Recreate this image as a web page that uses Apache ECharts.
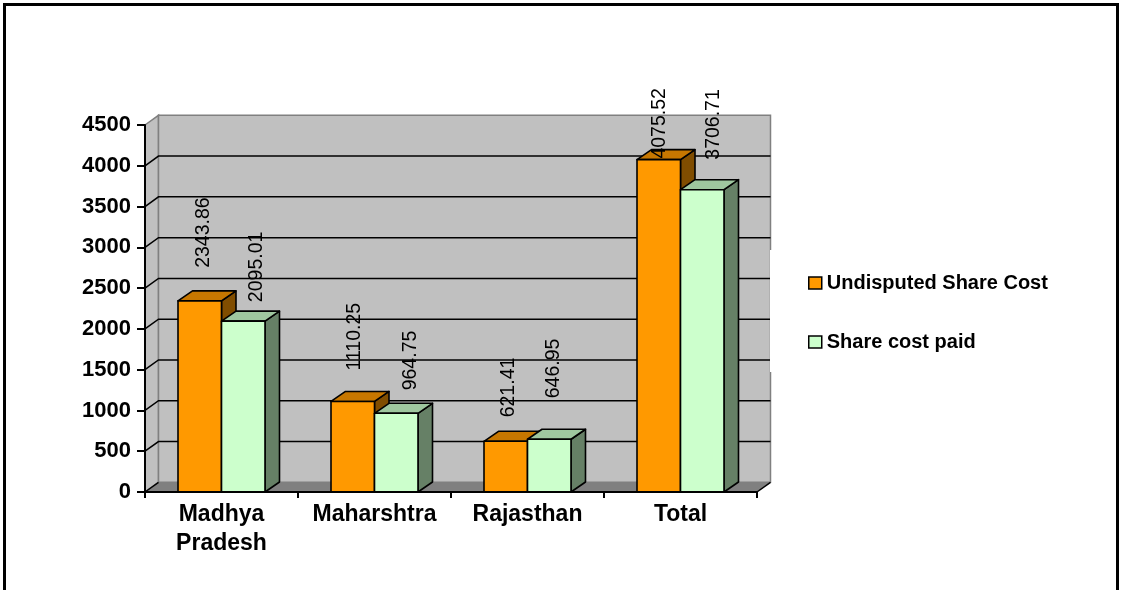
<!DOCTYPE html>
<html>
<head>
<meta charset="utf-8">
<script src="https://cdn.jsdelivr.net/npm/echarts@6/dist/echarts.min.js"></script>
<style>
  html, body { margin: 0; padding: 0; background: #ffffff; }
  #chart { width: 1122px; height: 590px; }
</style>
</head>
<body>
<div id="chart"></div>
<script>
// ---------------- data ----------------
const categories = ['Madhya\nPradesh', 'Maharshtra', 'Rajasthan', 'Total'];
const undisputedShareCost = [2343.86, 1110.25, 621.41, 4075.52];
const shareCostPaid = [2095.01, 964.75, 646.95, 3706.71];
const yTicks = [0, 500, 1000, 1500, 2000, 2500, 3000, 3500, 4000, 4500];
const seriesNames = ['Undisputed Share Cost', 'Share cost paid'];

// ---------------- style ----------------
const FONT = '"Liberation Sans", Arial, Helvetica, sans-serif';
const WALL_DX = 13.5, WALL_DY = -9.7;   // depth of the 3D walls
const BAR_DX = 14.5, BAR_DY = -10;      // depth of the 3D bars
const BAR_W = 43.5;
const palette = [
  { front: '#FF9900', top: '#C77700', side: '#804D00' },
  { front: '#CCFFCC', top: '#9FC79F', side: '#668066' }
];
// small label nudges [dx from bar centre, gap above bar top]
const labelNudge = [
  [[3.5, 33], [1.5, 31], [3.3, 24], [1, 1]],
  [[13, 19], [14, 23], [4.7, 41], [11.7, 30]]
];

const chart = echarts.init(document.getElementById('chart'), null, { renderer: 'canvas' });

function wallsRender(params, api) {
  const cs = params.coordSys;
  const L = cs.x, R = cs.x + cs.width, T = cs.y, B = cs.y + cs.height;
  const dx = WALL_DX, dy = WALL_DY;
  const children = [
    { type: 'polygon', shape: { points: [[L, T], [L + dx, T + dy], [L + dx, B + dy], [L, B]] },
      style: { fill: '#C0C0C0', stroke: '#808080', lineWidth: 1.5 } },
    { type: 'rect', shape: { x: L + dx, y: T + dy, width: R - L, height: B - T },
      style: { fill: '#C0C0C0', stroke: '#808080', lineWidth: 1.5 } },
    { type: 'polygon', shape: { points: [[L, B], [L + dx, B + dy], [R + dx, B + dy], [R, B]] },
      style: { fill: '#808080', stroke: null } },
    { type: 'polyline', shape: { points: [[L, B], [L + dx, B + dy]] },
      style: { stroke: '#000', lineWidth: 1.5, fill: null } },
    { type: 'polyline', shape: { points: [[R, B], [R + dx, B + dy]] },
      style: { stroke: '#000', lineWidth: 1.5, fill: null } }
  ];
  yTicks.forEach(function (t, i) {
    if (i === 0 || i === yTicks.length - 1) return;
    const y = api.coord([0, t])[1];
    children.push({ type: 'polyline',
      shape: { points: [[L, y], [L + dx, y + dy], [R + dx, y + dy]] },
      style: { stroke: '#000', lineWidth: 1.5, fill: null } });
  });
  return { type: 'group', children: children };
}

function makeBarRender(sIdx) {
  return function (params, api) {
    const ci = api.value(0), v = api.value(1);
    const base = api.coord([ci, 0]);
    const topPt = api.coord([ci, v]);
    const cx = base[0];
    const x0 = sIdx === 0 ? cx - BAR_W : cx;
    const x1 = x0 + BAR_W;
    const yb = base[1], yt = topPt[1];
    const dx = BAR_DX, dy = BAR_DY;
    const c = palette[sIdx];
    const edge = { stroke: '#000', lineWidth: 1.6, lineJoin: 'round' };
    const nd = labelNudge[sIdx][params.dataIndex];
    return {
      type: 'group',
      children: [
        { type: 'polygon', shape: { points: [[x1, yt], [x1 + dx, yt + dy], [x1 + dx, yb + dy], [x1, yb]] },
          style: Object.assign({ fill: c.side }, edge) },
        { type: 'polygon', shape: { points: [[x0, yt], [x1, yt], [x1 + dx, yt + dy], [x0 + dx, yt + dy]] },
          style: Object.assign({ fill: c.top }, edge) },
        { type: 'rect', shape: { x: x0, y: yt, width: x1 - x0, height: yb - yt },
          style: Object.assign({ fill: c.front }, edge) },
        { type: 'text', x: (x0 + x1) / 2 + nd[0], y: yt - nd[1], rotation: Math.PI / 2,
          style: { text: v.toFixed(2), fontSize: 19.5, fontFamily: FONT, fill: '#000',
                   align: 'left', verticalAlign: 'middle' } }
      ]
    };
  };
}

const option = {
  animation: false,
  backgroundColor: '#ffffff',
  grid: { left: 145, right: 365, top: 125, bottom: 98, containLabel: false },
  xAxis: {
    type: 'category',
    data: categories,
    z: 5,
    axisLine: { show: true, lineStyle: { color: '#000', width: 2 } },
    axisTick: { show: true, length: 6, lineStyle: { color: '#000', width: 2 } },
    axisLabel: { fontFamily: FONT, fontSize: 23, fontWeight: 'bold', color: '#000',
                 lineHeight: 29, margin: 8, interval: 0 },
    splitLine: { show: false }
  },
  yAxis: {
    type: 'value',
    min: 0, max: 4500, interval: 500,
    z: 5,
    axisLine: { show: true, lineStyle: { color: '#000', width: 2 } },
    axisTick: { show: true, length: 8, lineStyle: { color: '#000', width: 2 } },
    axisLabel: { fontFamily: FONT, fontSize: 22, fontWeight: 'bold', color: '#000', margin: 14,
                 formatter: function (v) { return String(v); } },
    splitLine: { show: false }
  },
  legend: {
    orient: 'vertical',
    left: 770, top: 250,
    padding: [23, 10, 20, 38],
    itemGap: 39,
    itemWidth: 13, itemHeight: 12,
    backgroundColor: '#ffffff',
    icon: 'rect',
    itemStyle: { borderColor: '#000', borderWidth: 1.5 },
    textStyle: { fontFamily: FONT, fontSize: 20, fontWeight: 'bold', color: '#000', lineHeight: 20 },
    data: seriesNames
  },
  graphic: [
    { type: 'rect', z: 100, silent: true,
      shape: { x: 4.5, y: 4.5, width: 1113, height: 640 },
      style: { fill: null, stroke: '#000', lineWidth: 3 } }
  ],
  series: [
    { name: 'walls', type: 'custom', z: 1, silent: true, renderItem: wallsRender,
      data: [[0, 0]], encode: { x: 0, y: 1 } },
    { name: seriesNames[0], type: 'custom', z: 2, renderItem: makeBarRender(0),
      itemStyle: { color: palette[0].front },
      data: undisputedShareCost.map(function (v, i) { return [i, v]; }), encode: { x: 0, y: 1 } },
    { name: seriesNames[1], type: 'custom', z: 2, renderItem: makeBarRender(1),
      itemStyle: { color: palette[1].front },
      data: shareCostPaid.map(function (v, i) { return [i, v]; }), encode: { x: 0, y: 1 } }
  ]
};
chart.setOption(option);
</script>
</body>
</html>
